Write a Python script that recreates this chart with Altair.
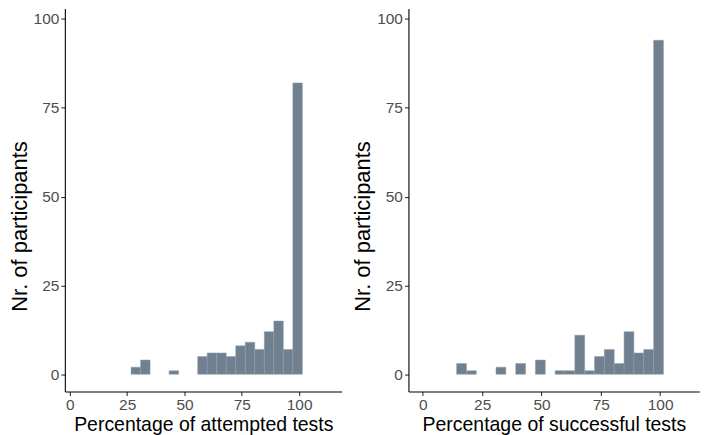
import altair as alt
import pandas as pd

# Histogram counts (bins of equal width, left to right)
attempted_counts = [2, 4, 0, 0, 1, 0, 0, 5, 6, 6, 5, 8, 9, 7, 12, 15, 7, 82]
successful_counts = [3, 1, 0, 0, 2, 0, 3, 0, 4, 0, 1, 1, 11, 1, 5, 7, 3, 12, 6, 7, 94]
bin_width = 4.15
upper_edge = 101.4
x_ticks = [0, 25, 50, 75, 100]
y_ticks = [0, 25, 50, 75, 100]
x_titles = ["Percentage of attempted tests", "Percentage of successful tests"]
y_title = "Nr. of participants"

BAR = "#708090"
FONT = "Liberation Sans"


def make_df(counts):
    n = len(counts)
    rows = []
    for i, c in enumerate(counts):
        hi = upper_edge - (n - 1 - i) * bin_width
        lo = hi - bin_width
        if c > 0:
            rows.append({"lo": lo, "hi": hi, "count": c})
    return pd.DataFrame(rows)


def panel(counts, xtitle, xdomain, width):
    df = make_df(counts)
    return alt.Chart(df).mark_bar(
        color=BAR, stroke="#8e9bab", strokeWidth=0.5, clip=True
    ).encode(
        x=alt.X(
            "lo:Q",
            scale=alt.Scale(domain=xdomain, nice=False, zero=False),
            axis=alt.Axis(values=x_ticks, title=xtitle),
        ),
        x2="hi:Q",
        y=alt.Y(
            "count:Q",
            scale=alt.Scale(domain=[-4.85, 102.9], nice=False, zero=False),
            axis=alt.Axis(values=y_ticks, title=y_title, titleFontSize=22,
                          titleY=218),
        ),
        y2=alt.datum(0),
    ).properties(width=width, height=384)


L0 = 64.0
left = panel(attempted_counts, x_titles[0],
             [(L0 - 69.0) / 2.3, (341.7 - 69.0) / 2.3], 341.7 - L0)
right = panel(successful_counts, x_titles[1], [-6.05, 116.5], 291.7)

chart = alt.hconcat(left, right, spacing=66.6, bounds="flush").properties(
    padding={"left": 0, "top": 0, "right": 0, "bottom": 0}
).configure(font=FONT).configure_view(stroke=None).configure_axis(
    grid=False,
    domainColor="black",
    domainWidth=1.1,
    tickColor="#333333",
    tickSize=4,
    tickWidth=1.1,
    labelColor="#4d4d4d",
    labelFontSize=15.5,
    labelFont=FONT,
    titleFont=FONT,
    titleFontSize=19.5,
    titleFontWeight="normal",
    titleColor="black",
    labelPadding=2,
).configure_axisY(
    titlePadding=2,
).configure_axisX(
    titlePadding=3,
)

chart.save("out.html", embed_options={"renderer": "svg", "actions": False})
